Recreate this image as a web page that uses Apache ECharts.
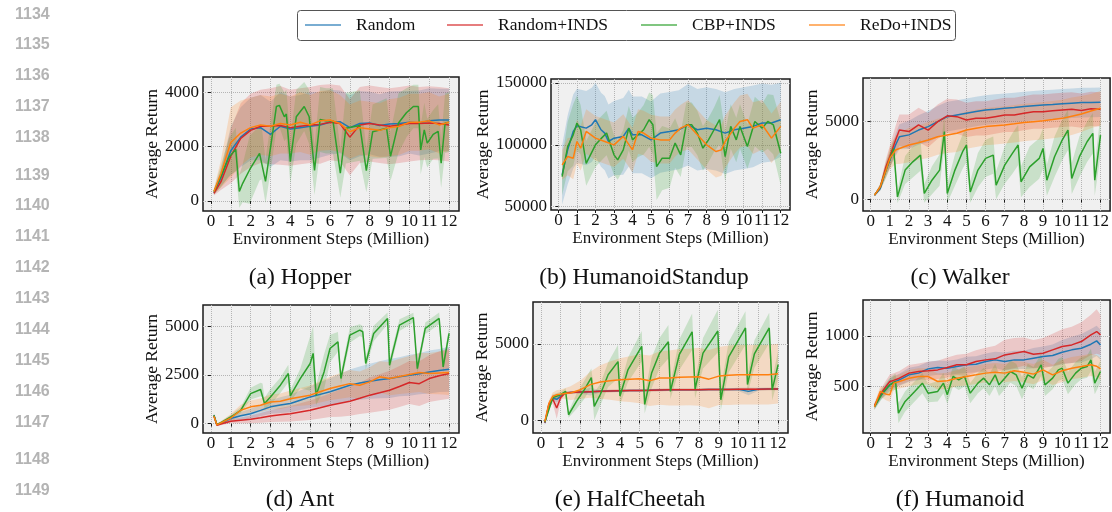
<!DOCTYPE html>
<html>
<head>
<meta charset="utf-8">
<script src="https://cdn.jsdelivr.net/npm/echarts@6/dist/echarts.min.js"></script>
<style>
  html, body { margin: 0; padding: 0; background: #ffffff; }
  #chart { width: 1112px; height: 512px; }
</style>
</head>
<body>
<div id="chart"></div>
<script>
// ---------- tick labels ----------
const stepTicks = [0, 1, 2, 3, 4, 5, 6, 7, 8, 9, 10, 11, 12];
const hopperTicks = [0, 2000, 4000];
const standupTicks = [50000, 100000, 150000];
const walkerTicks = [0, 5000];
const antTicks = [0, 2500, 5000];
const cheetahTicks = [0, 5000];
const humanoidTicks = [500, 1000];

const methods = ['Random', 'Random+INDS', 'CBP+INDS', 'ReDo+INDS'];
const captions = ['(a) Hopper', '(b) HumanoidStandup', '(c) Walker', '(d) Ant', '(e) HalfCheetah', '(f) Humanoid'];
const lineNumbers = ['1134', '1135', '1136', '1137', '1138', '1139', '1140', '1141', '1142', '1143', '1144', '1145', '1146', '1147', '1148', '1149'];

// ---------- (a) Hopper ----------
const hopperX = [0.15, 0.5, 1, 1.5, 2, 2.5, 3, 3.5, 4, 4.5, 5, 5.5, 6, 6.5, 7, 7.5, 8, 8.5, 9, 9.5, 10, 10.5, 11, 11.5, 12];
const hopperRandom = [300, 850, 1850, 2350, 2650, 2700, 2450, 2750, 2650, 2700, 2750, 2800, 2900, 2920, 2700, 2850, 2870, 2780, 2830, 2850, 2900, 2870, 2950, 2980, 2980];
const hopperRandomSd = [80, 300, 900, 1100, 1150, 1200, 1200, 1250, 1200, 1200, 1250, 1200, 1200, 1150, 1200, 1200, 1150, 1150, 1200, 1200, 1150, 1200, 1200, 1150, 1150];
const hopperInds = [280, 700, 1650, 2300, 2600, 2750, 2750, 2780, 2700, 2750, 2800, 2820, 2900, 2850, 2350, 2800, 2850, 2800, 2750, 2800, 2850, 2850, 2870, 2850, 2800];
const hopperIndsSd = [80, 300, 1000, 1300, 1350, 1350, 1400, 1450, 1400, 1400, 1400, 1450, 1400, 1400, 1400, 1400, 1400, 1400, 1400, 1400, 1400, 1350, 1350, 1350, 1350];
const hopperRedo = [350, 1000, 2150, 2500, 2700, 2800, 2750, 2850, 2800, 2900, 2800, 2950, 2980, 2850, 2550, 2700, 2650, 2600, 2700, 2750, 2900, 2900, 2950, 2800, 2900];
const hopperRedoSd = [100, 500, 1300, 1200, 1100, 1100, 1100, 1100, 1050, 1100, 1100, 1100, 1100, 1050, 1000, 1000, 1000, 1000, 1050, 1050, 1050, 1050, 1050, 1050, 1050];
const hopperCbpX = [0.15, 0.5, 0.9, 1.25, 1.43, 1.6, 1.95, 2.45, 2.55, 2.75, 3.05, 3.3, 3.45, 3.7, 3.8, 4.0, 4.3, 4.7, 4.95, 5.22, 5.5, 5.8, 6.15, 6.52, 6.8, 7.5, 7.83, 8.15, 8.85, 9.05, 9.45, 9.85, 10.2, 10.45, 10.57, 10.75, 10.9, 11.2, 11.45, 11.6, 11.8, 12];
const hopperCbp = [350, 900, 1600, 1900, 350, 650, 1150, 1750, 1800, 720, 2200, 3480, 3520, 3100, 3200, 1450, 3100, 3480, 3100, 1120, 3000, 2950, 2950, 1020, 2680, 2780, 1120, 2550, 2680, 1640, 2870, 3250, 3480, 3480, 1880, 2620, 2130, 2450, 2560, 1390, 2870, 2900];
const hopperCbpSd = [100, 400, 700, 800, 600, 700, 1250, 1000, 1000, 800, 900, 800, 800, 900, 900, 800, 1000, 900, 1000, 900, 1200, 1200, 1200, 900, 1300, 1300, 800, 1000, 1100, 900, 1100, 900, 800, 800, 900, 1000, 900, 900, 1000, 900, 1100, 1100];

// ---------- (b) HumanoidStandup ----------
const standupRandomX = [0.2, 0.5, 0.8, 1.0, 1.5, 1.8, 2.0, 2.3, 2.5, 2.7, 3.0, 3.5, 3.8, 4.0, 4.5, 5.0, 5.5, 6.0, 6.5, 7.0, 7.5, 8.0, 8.5, 9.0, 9.5, 10, 10.5, 11, 11.5, 12];
const standupRandom = [75700, 96000, 110800, 115400, 113500, 116200, 120300, 112200, 109500, 102700, 105400, 106800, 113500, 108100, 108100, 104000, 109500, 110800, 112200, 116200, 112200, 113500, 112200, 109500, 112200, 113500, 114900, 117600, 117600, 120300];
const standupRandomSd = [24000, 28000, 30000, 30000, 30000, 30000, 30000, 30000, 30000, 30000, 30000, 31000, 31000, 31000, 31000, 31000, 32000, 32000, 32000, 33000, 33000, 33000, 33000, 33000, 33000, 33000, 33000, 32000, 31000, 30000];
const standupRedoX = [0.2, 0.5, 0.8, 1.0, 1.2, 1.5, 2.0, 2.5, 3.0, 3.5, 4.0, 4.3, 4.6, 5.0, 5.5, 6.0, 6.3, 6.6, 7.0, 7.5, 8.0, 8.5, 8.8, 9.0, 9.5, 9.8, 10.2, 10.5, 11, 11.5, 12];
const standupRedo = [83800, 90500, 89200, 102700, 97300, 110800, 105400, 102700, 100000, 106800, 95900, 110800, 109500, 105400, 104000, 104000, 109500, 113500, 116200, 108100, 100000, 94600, 95900, 102700, 113500, 118900, 120300, 113500, 116200, 105400, 114900];
const standupRedoSd = [12000, 15000, 17000, 18000, 18000, 18000, 18000, 18000, 18000, 18000, 18000, 18000, 18000, 19000, 19000, 19000, 19000, 19000, 20000, 20000, 20000, 21000, 21000, 21000, 21000, 21000, 21000, 21000, 20000, 20000, 20000];
const standupCbpX = [0.2, 0.5, 0.8, 1.0, 1.2, 1.5, 2.0, 2.3, 2.6, 3.0, 3.2, 3.5, 3.8, 4.0, 4.3, 4.6, 4.9, 5.1, 5.3, 5.6, 6.0, 6.3, 6.6, 6.9, 7.2, 7.5, 7.8, 8.1, 8.4, 8.7, 9.0, 9.3, 9.6, 9.8, 10.2, 10.6, 11, 11.3, 11.6, 12];
const standupCbp = [74300, 98600, 108100, 117600, 112200, 85000, 100000, 105000, 109500, 91900, 87800, 95900, 113500, 104000, 108100, 112200, 120300, 116200, 82400, 89200, 89200, 101400, 91900, 116200, 116200, 109500, 97300, 104000, 112200, 120300, 90500, 114900, 104000, 114900, 98600, 118900, 113500, 118900, 116200, 93200];
const standupCbpSd = [15000, 20000, 25000, 22000, 20000, 18000, 18000, 18000, 18000, 16000, 16000, 16000, 18000, 18000, 18000, 20000, 22000, 24000, 27000, 26000, 24000, 20000, 18000, 18000, 18000, 18000, 18000, 18000, 18000, 20000, 20000, 18000, 18000, 18000, 18000, 20000, 20000, 22000, 24000, 26000];

// ---------- (c) Walker ----------
const walkerX = [0.2, 0.5, 0.8, 1.0, 1.3, 1.5, 2, 2.5, 3, 3.5, 4, 4.5, 5, 5.5, 6, 6.5, 7, 7.5, 8, 8.5, 9, 9.5, 10, 10.5, 11, 11.5, 12];
const walkerRandom = [280, 710, 1890, 2530, 3500, 4030, 4150, 4460, 4680, 5000, 5320, 5430, 5540, 5650, 5750, 5800, 5860, 5900, 5970, 6020, 6070, 6100, 6140, 6180, 6220, 6230, 6240];
const walkerRandomSd = [50, 150, 400, 500, 700, 800, 900, 950, 1000, 1000, 950, 950, 950, 950, 950, 950, 950, 950, 950, 950, 950, 950, 950, 950, 950, 950, 950];
const walkerInds = [280, 800, 2100, 2750, 3820, 4460, 4360, 4790, 4450, 5000, 5370, 5320, 5110, 5210, 5210, 5320, 5430, 5430, 5540, 5640, 5640, 5700, 5750, 5790, 5710, 5820, 5790];
const walkerIndsSd = [50, 200, 500, 700, 900, 1000, 1100, 1100, 1100, 1100, 1100, 1100, 1100, 1100, 1100, 1100, 1100, 1100, 1100, 1100, 1100, 1100, 1100, 1100, 1100, 1100, 1100];
const walkerRedo = [280, 815, 1890, 2640, 3180, 3280, 3500, 3650, 3820, 4030, 4140, 4250, 4460, 4570, 4680, 4740, 4790, 4860, 4940, 5000, 5060, 5130, 5210, 5350, 5490, 5680, 5860];
const walkerRedoSd = [50, 200, 500, 700, 900, 1000, 1100, 1100, 1150, 1150, 1150, 1200, 1200, 1200, 1200, 1200, 1200, 1200, 1200, 1200, 1200, 1200, 1200, 1200, 1150, 1100, 1100];
const walkerCbpX = [0.2, 0.5, 0.8, 1.2, 1.4, 1.8, 2.2, 2.6, 2.8, 3.2, 3.6, 3.85, 4.0, 4.4, 4.8, 5.0, 5.2, 5.6, 6.0, 6.4, 6.55, 7.0, 7.4, 7.7, 7.85, 8.3, 8.8, 9.0, 9.2, 9.6, 10.0, 10.3, 10.5, 10.9, 11.3, 11.6, 11.7, 12.0];
const walkerCbp = [280, 800, 1900, 3280, 170, 1890, 2420, 2850, 390, 1240, 1890, 4360, 390, 1890, 3070, 3500, 490, 1890, 2640, 2850, 920, 2210, 2960, 3500, 1140, 2100, 2640, 3280, 1240, 2750, 3820, 4460, 1350, 2750, 3710, 4250, 1240, 4140];
const walkerCbpSd = [50, 200, 500, 600, 400, 900, 1000, 1000, 600, 900, 1000, 1000, 600, 1000, 1100, 1100, 700, 1100, 1200, 1200, 900, 1200, 1300, 1300, 1000, 1300, 1300, 1300, 1000, 1300, 1300, 1300, 1000, 1300, 1300, 1300, 1000, 1300];

// ---------- (d) Ant ----------
const antX = [0.15, 0.3, 0.5, 1, 1.5, 2, 2.5, 3, 3.5, 4, 4.5, 5, 5.5, 6, 6.5, 7, 7.5, 8, 8.5, 9, 9.5, 10, 10.5, 11, 11.5, 12];
const antRandom = [430, -50, 20, 260, 400, 510, 680, 860, 950, 1030, 1200, 1370, 1500, 1630, 1800, 1970, 2080, 2170, 2250, 2310, 2400, 2480, 2560, 2650, 2720, 2790];
const antRandomSd = [100, 60, 60, 120, 200, 250, 300, 350, 400, 450, 500, 550, 620, 700, 750, 800, 850, 900, 950, 1000, 1000, 1050, 1050, 1100, 1100, 1150];
const antInds = [400, -80, -20, 120, 170, 220, 300, 390, 450, 510, 600, 685, 810, 940, 1050, 1150, 1300, 1460, 1580, 1710, 1900, 2110, 2050, 2310, 2450, 2570];
const antIndsSd = [100, 60, 60, 100, 150, 200, 250, 300, 350, 400, 450, 500, 550, 600, 700, 750, 800, 900, 950, 1000, 1050, 1100, 1150, 1200, 1250, 1300];
const antRedo = [380, -60, 40, 290, 685, 860, 940, 1110, 1150, 1280, 1370, 1460, 1630, 1800, 1930, 2050, 1970, 2140, 2400, 2310, 2420, 2520, 2620, 2570, 2600, 2620];
const antRedoSd = [100, 60, 80, 200, 280, 320, 350, 380, 400, 420, 450, 500, 550, 600, 650, 700, 700, 750, 800, 850, 900, 950, 1000, 1050, 1100, 1150];
const antCbpX = [0.15, 0.3, 0.5, 1, 1.5, 2, 2.5, 2.6, 2.7, 3, 3.5, 3.9, 4.0, 4.5, 5, 5.15, 5.3, 5.7, 6, 6.4, 6.55, 7, 7.5, 7.65, 7.8, 8.2, 8.9, 9.0, 9.5, 10.2, 10.4, 10.8, 11.5, 11.7, 12];
const antCbp = [430, -50, 50, 340, 685, 1540, 1750, 1710, 1030, 1370, 1970, 2570, 1420, 2310, 3080, 3600, 1460, 2650, 3850, 4190, 2310, 4540, 4790, 4710, 3080, 4620, 5390, 3000, 5050, 5430, 2820, 4880, 5390, 2910, 4620];
const antCbpSd = [100, 60, 60, 100, 150, 300, 350, 350, 300, 400, 400, 450, 300, 500, 1400, 1400, 500, 900, 700, 500, 300, 400, 300, 300, 300, 400, 300, 300, 300, 250, 250, 300, 300, 300, 300];

// ---------- (e) HalfCheetah ----------
const cheetahX = [0.2, 0.4, 0.6, 0.8, 1.0, 1.2, 1.5, 2, 2.5, 3, 3.5, 4, 4.5, 5, 5.5, 6, 6.5, 7, 7.5, 8, 8.5, 9, 9.5, 10, 10.5, 11, 11.5, 12];
const cheetahRandom = [-170, 1030, 1460, 1380, 1570, 1790, 1830, 1860, 1880, 1900, 1920, 1940, 1950, 1960, 1970, 1990, 2000, 2000, 2010, 2010, 2020, 2020, 2030, 2030, 1900, 2040, 2050, 2050];
const cheetahRandomSd = [150, 200, 150, 200, 150, 100, 80, 100, 250, 80, 80, 80, 80, 80, 80, 80, 80, 80, 80, 80, 80, 80, 80, 100, 250, 100, 80, 80];
const cheetahInds = [-150, 1000, 1400, 810, 1500, 1780, 1830, 1860, 1880, 1900, 1920, 1940, 1950, 1960, 1970, 1990, 2000, 2000, 2010, 2010, 2020, 2020, 2030, 2040, 2040, 2040, 2050, 2050];
const cheetahIndsSd = [150, 200, 300, 700, 250, 100, 80, 80, 80, 80, 80, 80, 80, 80, 80, 80, 80, 80, 80, 80, 80, 80, 80, 80, 80, 80, 80, 80];
const cheetahRedo = [-60, 1100, 1570, 1680, 1720, 1760, 1790, 2010, 2340, 2510, 2600, 2660, 2700, 2730, 2600, 2770, 2770, 2820, 2840, 2860, 2700, 2900, 2950, 2990, 2990, 2990, 2990, 3060];
const cheetahRedoSd = [100, 200, 250, 300, 300, 350, 450, 600, 850, 1100, 1250, 1400, 1500, 1600, 1650, 1750, 1800, 1850, 1850, 1900, 1900, 1900, 1950, 1950, 1950, 1950, 1950, 1950];
const cheetahCbpX = [0.2, 0.6, 1.0, 1.25, 1.4, 1.8, 2.2, 2.55, 2.7, 3.0, 3.4, 3.9, 4.0, 4.4, 5.1, 5.25, 5.6, 6.0, 6.45, 6.55, 7.0, 7.65, 7.8, 8.2, 8.95, 9.1, 9.5, 10.35, 10.45, 10.8, 11.55, 11.7, 12];
const cheetahCbp = [-100, 1500, 1680, 1900, 370, 1240, 2010, 2800, 920, 1680, 2990, 3850, 1600, 3300, 4850, 1050, 3100, 4400, 5150, 1900, 4300, 5800, 2050, 4400, 5850, 1350, 4150, 6050, 2350, 4350, 6050, 2000, 3650];
const cheetahCbpSd = [100, 200, 200, 200, 200, 500, 600, 600, 900, 700, 800, 1100, 600, 800, 1000, 600, 1000, 1000, 1100, 500, 1000, 1200, 600, 1000, 1400, 700, 1000, 1100, 600, 900, 1000, 700, 900];

// ---------- (f) Humanoid ----------
const humanoidX = [0.2, 0.5, 0.8, 1.0, 1.2, 1.5, 2, 2.5, 3, 3.5, 4, 4.5, 5, 5.5, 6, 6.5, 7, 7.5, 8, 8.5, 9, 9.5, 10, 10.5, 11, 11.5, 11.8, 12];
const humanoidRandom = [303, 401, 470, 516, 540, 566, 615, 632, 674, 687, 681, 697, 714, 720, 747, 763, 747, 763, 763, 780, 796, 806, 839, 862, 878, 918, 951, 911];
const humanoidRandomSd = [30, 40, 50, 60, 60, 60, 70, 70, 70, 70, 70, 70, 80, 80, 80, 80, 90, 90, 90, 100, 100, 110, 120, 130, 140, 150, 150, 150];
const humanoidInds = [310, 418, 500, 549, 560, 582, 632, 648, 655, 664, 687, 714, 714, 747, 763, 773, 812, 829, 845, 819, 829, 862, 895, 911, 944, 1010, 1043, 1010];
const humanoidIndsSd = [30, 50, 60, 70, 70, 70, 80, 80, 90, 90, 100, 100, 110, 110, 120, 130, 150, 150, 140, 140, 150, 160, 170, 180, 190, 200, 220, 200];
const humanoidRedo = [300, 451, 424, 418, 533, 549, 582, 599, 599, 549, 556, 582, 599, 615, 632, 641, 632, 655, 641, 622, 664, 615, 655, 681, 697, 714, 700, 674];
const humanoidRedoSd = [30, 50, 60, 70, 70, 70, 80, 80, 80, 80, 80, 80, 90, 90, 90, 90, 90, 100, 100, 100, 100, 100, 110, 110, 110, 110, 110, 110];
const humanoidCbpX = [0.2, 0.6, 1.0, 1.3, 1.45, 1.8, 2.3, 2.7, 3.0, 3.5, 3.8, 4.0, 4.3, 4.6, 4.9, 5.2, 5.6, 5.9, 6.2, 6.5, 6.7, 7.0, 7.3, 7.6, 7.9, 8.2, 8.5, 8.9, 9.1, 9.5, 9.8, 10.0, 10.3, 10.7, 11.0, 11.3, 11.5, 11.7, 12];
const humanoidCbp = [300, 430, 516, 549, 237, 352, 451, 533, 434, 451, 533, 418, 599, 566, 599, 434, 533, 582, 516, 615, 516, 582, 648, 615, 484, 615, 582, 714, 516, 582, 664, 681, 533, 632, 681, 697, 763, 533, 648];
const humanoidCbpSd = [30, 50, 70, 80, 100, 100, 100, 100, 90, 100, 100, 90, 100, 100, 100, 100, 100, 100, 110, 110, 110, 110, 110, 110, 110, 110, 110, 110, 110, 110, 110, 110, 110, 110, 110, 110, 110, 110, 110];

// ---------- styling ----------
const SERIF = "'Liberation Serif', 'Times New Roman', serif";
const TEXT = '#111111';
const COLORS = {
  'Random': '#1f77b4',
  'Random+INDS': '#d62728',
  'CBP+INDS': '#2ca02c',
  'ReDo+INDS': '#ff7f0e'
};

function rgba(hex, a) {
  const n = parseInt(hex.slice(1), 16);
  return 'rgba(' + (n >> 16 & 255) + ',' + (n >> 8 & 255) + ',' + (n & 255) + ',' + a + ')';
}

// Panel layout: plot box in pixels, y range and the runs drawn inside it.
const panels = [
  { box: { left: 203, top: 77, width: 256, height: 134 }, yRange: [-370, 4565], yTicks: hopperTicks, yGap: 39,
    runs: [['Random', hopperX, hopperRandom, hopperRandomSd], ['Random+INDS', hopperX, hopperInds, hopperIndsSd],
           ['CBP+INDS', hopperCbpX, hopperCbp, hopperCbpSd], ['ReDo+INDS', hopperX, hopperRedo, hopperRedoSd]] },
  { box: { left: 551, top: 79, width: 239, height: 131 }, yRange: [47300, 153240], yTicks: standupTicks, yGap: 57,
    runs: [['Random', standupRandomX, standupRandom, standupRandomSd],
           ['CBP+INDS', standupCbpX, standupCbp, standupCbpSd], ['ReDo+INDS', standupRedoX, standupRedo, standupRedoSd]] },
  { box: { left: 863, top: 78, width: 253, height: 133 }, yRange: [-735, 7800], yTicks: walkerTicks, yGap: 39,
    runs: [['Random', walkerX, walkerRandom, walkerRandomSd], ['Random+INDS', walkerX, walkerInds, walkerIndsSd],
           ['CBP+INDS', walkerCbpX, walkerCbp, walkerCbpSd], ['ReDo+INDS', walkerX, walkerRedo, walkerRedoSd]] },
  { box: { left: 203, top: 305, width: 256, height: 128 }, yRange: [-480, 6080], yTicks: antTicks, yGap: 39,
    runs: [['Random', antX, antRandom, antRandomSd], ['Random+INDS', antX, antInds, antIndsSd],
           ['CBP+INDS', antCbpX, antCbp, antCbpSd], ['ReDo+INDS', antX, antRedo, antRedoSd]] },
  { box: { left: 533, top: 302, width: 255, height: 131 }, yRange: [-825, 7750], yTicks: cheetahTicks, yGap: 39,
    runs: [['Random', cheetahX, cheetahRandom, cheetahRandomSd], ['Random+INDS', cheetahX, cheetahInds, cheetahIndsSd],
           ['CBP+INDS', cheetahCbpX, cheetahCbp, cheetahCbpSd], ['ReDo+INDS', cheetahX, cheetahRedo, cheetahRedoSd]] },
  { box: { left: 863, top: 300, width: 253, height: 133 }, yRange: [40, 1355], yTicks: humanoidTicks, yGap: 39,
    runs: [['Random', humanoidX, humanoidRandom, humanoidRandomSd], ['Random+INDS', humanoidX, humanoidInds, humanoidIndsSd],
           ['CBP+INDS', humanoidCbpX, humanoidCbp, humanoidCbpSd], ['ReDo+INDS', humanoidX, humanoidRedo, humanoidRedoSd]] }
];

const captionPos = [[300, 278], [644, 278], [960, 278], [300, 500], [630, 500], [960, 500]];
const lineNumberY = [15, 45, 76, 107, 138, 176, 206, 237, 268, 299, 330, 361, 392, 423, 460, 491];
const legendLeft = [305, 447, 641, 809];

// Shaded mean ± std band, drawn as one polygon through the axis scales.
function bandSeries(gi, name, xs, mean, sd) {
  const color = COLORS[name];
  return {
    type: 'custom',
    name: name + ' (std)',
    xAxisIndex: gi, yAxisIndex: gi,
    silent: true,
    z: 1,
    clip: true,
    data: xs.map((x, i) => [x, mean[i] - sd[i], mean[i] + sd[i]]),
    encode: { x: 0, y: [1, 2] },
    renderItem: function (params, api) {
      if (params.dataIndexInside !== 0) return null;
      const n = params.dataInsideLength;
      const upper = [], lower = [];
      for (let j = 0; j < n; j++) {
        upper.push(api.coord([api.value(0, j), api.value(2, j)]));
        lower.push(api.coord([api.value(0, j), api.value(1, j)]));
      }
      return {
        type: 'polygon',
        shape: { points: upper.concat(lower.reverse()) },
        style: { fill: rgba(color, 0.2), stroke: null }
      };
    }
  };
}

function meanSeries(gi, name, xs, mean) {
  const color = COLORS[name];
  return {
    type: 'line',
    name: name,
    xAxisIndex: gi, yAxisIndex: gi,
    data: xs.map((x, i) => [x, mean[i]]),
    symbol: 'none',
    showSymbol: false,
    clip: true,
    z: 3,
    lineStyle: { color: color, width: 1.5 },
    itemStyle: { color: color }
  };
}

const grids = [], xAxes = [], yAxes = [], bands = [], lines = [];
panels.forEach((p, gi) => {
  grids.push(Object.assign({
    show: true, backgroundColor: '#f0f0f0', borderColor: '#1a1a1a', borderWidth: 1.5
  }, p.box));
  xAxes.push({
    type: 'value', gridIndex: gi, min: -0.4, max: 12.5,
    axisLine: { show: false },
    axisTick: { show: true, length: 3, customValues: stepTicks, lineStyle: { color: '#1a1a1a' } },
    axisLabel: { customValues: stepTicks, margin: 2, fontFamily: SERIF, fontSize: 17, color: TEXT,
                 formatter: v => String(v) },
    splitLine: { show: true, lineStyle: { type: 'dotted', color: '#b4b4b4', width: 1 } },
    name: 'Environment Steps (Million)', nameLocation: 'middle', nameGap: 20,
    nameTextStyle: { fontFamily: SERIF, fontSize: 17, color: TEXT }
  });
  yAxes.push({
    type: 'value', gridIndex: gi, min: p.yRange[0], max: p.yRange[1],
    axisLine: { show: false },
    axisTick: { show: true, length: 3, customValues: p.yTicks, lineStyle: { color: '#1a1a1a' } },
    axisLabel: { customValues: p.yTicks, margin: 4, fontFamily: SERIF, fontSize: 17, color: TEXT,
                 formatter: v => String(v) },
    splitLine: { show: true, lineStyle: { type: 'dotted', color: '#b4b4b4', width: 1 } },
    name: 'Average Return', nameLocation: 'middle', nameGap: p.yGap,
    nameTextStyle: { fontFamily: SERIF, fontSize: 17.5, color: TEXT }
  });
  p.runs.forEach(r => {
    bands.push(bandSeries(gi, r[0], r[1], r[2], r[3]));
    lines.push(meanSeries(gi, r[0], r[1], r[2]));
  });
});

const legends = methods.map((m, i) => ({
  data: [{ name: m, icon: 'rect' }],
  left: legendLeft[i], top: 16,
  padding: 0,
  itemWidth: 36, itemHeight: 2,
  selectedMode: false,
  itemStyle: { opacity: 0.6 },
  textStyle: { fontFamily: SERIF, fontSize: 17.5, color: TEXT, padding: [0, 0, 0, 10] }
}));

const graphics = [
  { type: 'rect', left: 297, top: 10, z: 0,
    shape: { x: 0, y: 0, width: 658, height: 30, r: 3 },
    style: { fill: '#ffffff', stroke: '#555555', lineWidth: 1 } }
];
captions.forEach((c, i) => {
  graphics.push({ type: 'text', x: captionPos[i][0], y: captionPos[i][1],
    style: { text: c, font: '23.5px ' + SERIF, fill: TEXT, textAlign: 'center', textVerticalAlign: 'middle' } });
});
lineNumbers.forEach((t, i) => {
  graphics.push({ type: 'text', x: 15, y: lineNumberY[i],
    style: { text: t, font: 'bold 16px "Liberation Sans", Arial, sans-serif', fill: '#b4b4b4', textAlign: 'left', textVerticalAlign: 'middle' } });
});

const chart = echarts.init(document.getElementById('chart'), null, { renderer: 'canvas' });
chart.setOption({
  animation: false,
  backgroundColor: '#ffffff',
  grid: grids,
  xAxis: xAxes,
  yAxis: yAxes,
  legend: legends,
  graphic: graphics,
  series: bands.concat(lines)
});
</script>
</body>
</html>
